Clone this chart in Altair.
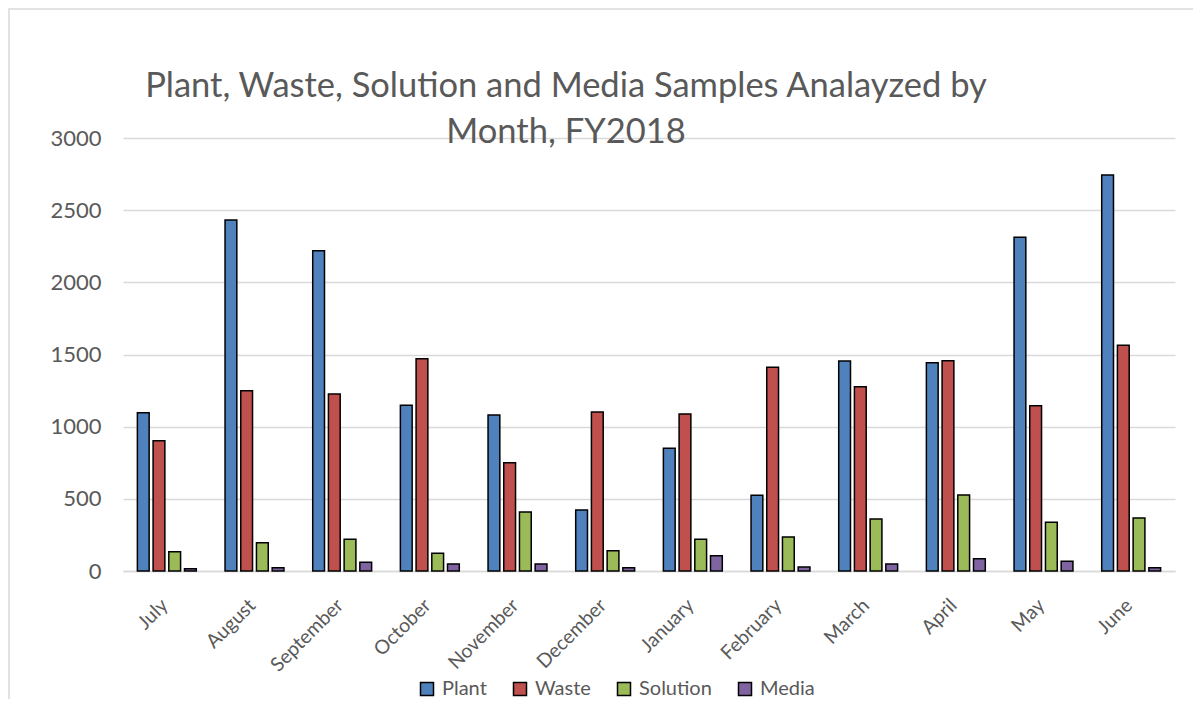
import altair as alt
import pandas as pd

months = ["July", "August", "September", "October", "November", "December",
          "January", "February", "March", "April", "May", "June"]
series_names = ["Plant", "Waste", "Solution", "Media"]
plant = [1097, 2432, 2219, 1148, 1080, 423, 850, 525, 1455, 1443, 2312, 2744]
waste = [903, 1249, 1226, 1471, 750, 1102, 1088, 1411, 1277, 1457, 1145, 1564]
solution = [134, 196, 220, 123, 409, 141, 220, 236, 360, 527, 337, 367]
media = [16, 23, 60, 49, 49, 23, 106, 28, 49, 85, 67, 23]
colors = ["#4F81BD", "#C0504D", "#9BBB59", "#8064A2"]
y_ticks = [0, 500, 1000, 1500, 2000, 2500, 3000]

rows = []
for name, vals in zip(series_names, [plant, waste, solution, media]):
    for m, v in zip(months, vals):
        rows.append({"month": m, "series": name, "value": v})
df = pd.DataFrame(rows)

FONT = "Lato"
TEXT_COLOR = "#595959"
GRID = "#D9D9D9"

bars = alt.Chart(df).mark_bar(stroke="black", strokeWidth=1.5).encode(
    x=alt.X("month:N", sort=months,
            scale=alt.Scale(paddingInner=0.328, paddingOuter=0.164),
            axis=alt.Axis(title=None, labelAngle=315, labelAlign="right",
                          labelBaseline="middle", labelPadding=31, labelOffset=-2,
                          ticks=False, domainColor=GRID, domainWidth=1.5,
                          labelFontSize=19.5, labelColor=TEXT_COLOR, labelFont=FONT)),
    xOffset=alt.XOffset("series:N", sort=series_names,
                        scale=alt.Scale(paddingInner=0.25, paddingOuter=0)),
    y=alt.Y("value:Q", scale=alt.Scale(domain=[0, 3000], nice=False),
            axis=alt.Axis(title=None, values=y_ticks, format="d", grid=True, gridColor=GRID,
                          gridWidth=1.5, domain=False, ticks=False,
                          labelFontSize=22, labelColor=TEXT_COLOR, labelFont=FONT,
                          labelPadding=22)),
    color=alt.Color("series:N", sort=series_names,
                    scale=alt.Scale(domain=series_names, range=colors),
                    legend=alt.Legend(title=None, orient="none", direction="horizontal",
                                      legendX=294, legendY=541, symbolType="square",
                                      symbolSize=169, symbolStrokeColor="black",
                                      symbolStrokeWidth=1.5, labelFontSize=20,
                                      labelFont=FONT, labelColor=TEXT_COLOR,
                                      labelOffset=5, columnPadding=23, padding=0)),
)

border_df = pd.DataFrame({"a": [0]})
border = alt.Chart(border_df).mark_rect(fillOpacity=0, stroke=GRID, strokeWidth=1.5).encode(
    x=alt.value(-114), x2=alt.value(1100), y=alt.value(-129), y2=alt.value(700)
)

chart = alt.layer(border, bars).properties(
    width=1052, height=433,
    title=alt.TitleParams(
        text=["Plant, Waste, Solution and Media Samples Analayzed by", "Month, FY2018"],
        fontSize=34.5, font=FONT, fontWeight="normal", color=TEXT_COLOR,
        lineHeight=46, anchor="middle", dx=-83, offset=-142),
    padding={"left": 115, "top": 130, "right": 18, "bottom": 128},
    autosize=alt.AutoSizeParams(type="none"),
).configure_view(stroke=None)

chart.save("out.html", embed_options={"renderer": "svg", "actions": False})
